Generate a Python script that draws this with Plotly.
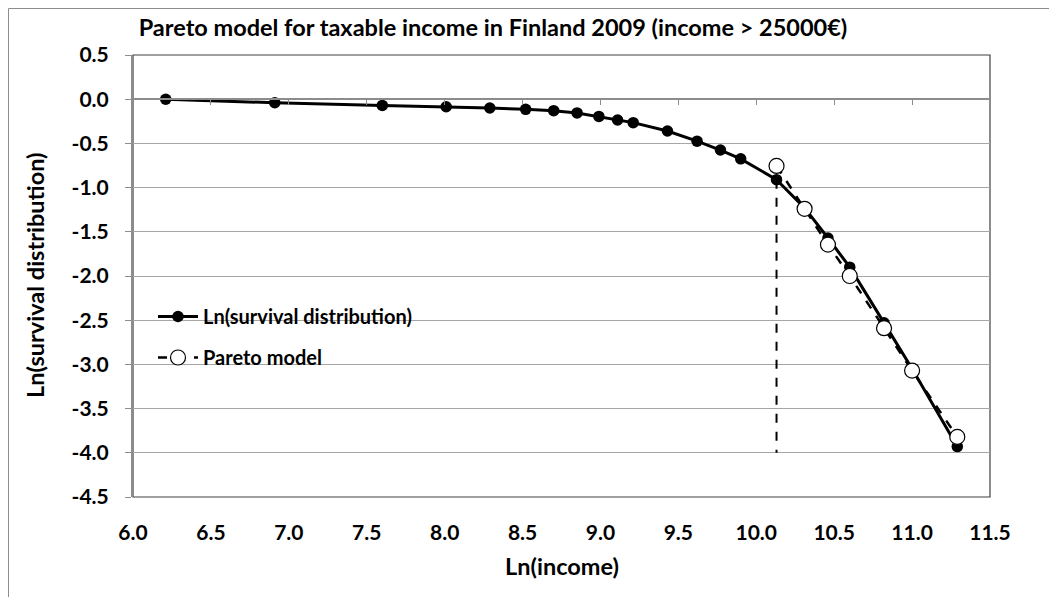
import plotly.graph_objects as go

# Data
ln_income = [6.21, 6.91, 7.60, 8.01, 8.29, 8.52, 8.70, 8.85, 8.99, 9.11, 9.21,
             9.43, 9.62, 9.77, 9.90, 10.13, 10.31, 10.46, 10.60, 10.82, 11.00, 11.29]
ln_survival = [0.0, -0.04, -0.07, -0.085, -0.10, -0.115, -0.13, -0.155, -0.195, -0.235, -0.265,
               -0.36, -0.475, -0.575, -0.675, -0.91, -1.23, -1.57, -1.90, -2.53, -3.05, -3.93]
pareto_x = [10.13, 10.31, 10.46, 10.60, 10.82, 11.00, 11.29]
pareto_y = [-0.755, -1.24, -1.645, -2.0, -2.59, -3.07, -3.82]
cutoff_x = [10.13, 10.13]
cutoff_y = [-0.91, -4.0]

x_ticks = [6.0, 6.5, 7.0, 7.5, 8.0, 8.5, 9.0, 9.5, 10.0, 10.5, 11.0, 11.5]
x_ticktext = ["6.0", "6.5", "7.0", "7.5", "8.0", "8.5", "9.0", "9.5", "10.0", "10.5", "11.0", "11.5"]
y_ticks = [0.5, 0.0, -0.5, -1.0, -1.5, -2.0, -2.5, -3.0, -3.5, -4.0, -4.5]
y_ticktext = ["0.5", "0.0", "-0.5", "-1.0", "-1.5", "-2.0", "-2.5", "-3.0", "-3.5", "-4.0", "-4.5"]

W, H = 1057, 597
ML, MR, MT, MB = 125, 75, 47, 108
FONT = "Lato"
BOLD = dict(family=FONT, color="black", weight="bold")

pw = W - ML - MR
ph = H - MT - MB
def px(xp):
    return (xp - ML) / pw
def py(yp):
    return (H - MB - yp) / ph

fig = go.Figure()
fig.add_trace(go.Scatter(x=cutoff_x, y=cutoff_y, mode="lines", showlegend=False,
                         line=dict(color="black", width=2, dash="dash"), hoverinfo="skip"))
fig.add_trace(go.Scatter(x=ln_income, y=ln_survival, mode="lines+markers",
                         name="Ln(survival distribution)", legendgroup="a",
                         line=dict(color="black", width=3),
                         marker=dict(color="black", size=11.5)))
fig.add_trace(go.Scatter(x=pareto_x, y=pareto_y, mode="lines+markers",
                         name="Pareto model", legendgroup="b",
                         line=dict(color="black", width=2.5, dash="dash"),
                         marker=dict(color="white", size=15, line=dict(color="black", width=1.2))))
# invisible trace to activate the x axis drawn at y = 0
fig.add_trace(go.Scatter(x=[6.0], y=[0.0], xaxis="x2", mode="markers",
                         marker=dict(opacity=0), showlegend=False, hoverinfo="skip"))

fig.update_layout(
    width=W, height=H,
    margin=dict(l=ML, r=MR, t=MT, b=MB, autoexpand=False),
    paper_bgcolor="white", plot_bgcolor="white",
    font=dict(family=FONT, size=19, color="black", weight="bold"),
    title=dict(text="Pareto model for taxable income in Finland 2009 (income > 25000€)",
               x=485 / W, xanchor="center", y=1 - 20 / H, yanchor="middle",
               font=dict(size=23.5, **BOLD)),
    xaxis=dict(range=[6.0, 11.5], tickmode="array", tickvals=x_ticks, ticktext=x_ticktext,
               showgrid=False, zeroline=False, showline=False, ticks="",
               ticklabelstandoff=21, automargin=False,
               tickfont=dict(size=21, **BOLD)),
    xaxis2=dict(range=[6.0, 11.5], tickmode="array", tickvals=x_ticks, overlaying="x", anchor="free",
                position=0.9, side="bottom", showline=True, linecolor="#8c8c8c", linewidth=1.5,
                ticks="outside", ticklen=5, tickcolor="#8c8c8c", showticklabels=False,
                showgrid=False, zeroline=False, automargin=False),
    yaxis=dict(range=[-4.5, 0.5], tickmode="array", tickvals=y_ticks, ticktext=y_ticktext,
               showgrid=True, gridcolor="#a6a6a6", gridwidth=1.3, zeroline=False,
               showline=True, linecolor="#8c8c8c", linewidth=2,
               ticks="outside", ticklen=6, tickcolor="#8c8c8c",
               ticklabelstandoff=12, automargin=False,
               tickfont=dict(size=21, **BOLD)),
    legend=dict(x=px(145), y=py(289), xanchor="left", yanchor="top",
                bgcolor="rgba(0,0,0,0)", font=dict(size=20, **BOLD),
                itemwidth=40, tracegroupgap=12, traceorder="grouped"),
    showlegend=True,
    annotations=[
        dict(text="Ln(income)", xref="paper", yref="paper", x=0.5, y=py(558),
             xanchor="center", yanchor="middle", showarrow=False, font=dict(size=23.5, **BOLD)),
        dict(text="Ln(survival distribution)", xref="paper", yref="paper", x=px(27), y=0.5,
             xanchor="center", yanchor="middle", textangle=-90, showarrow=False,
             font=dict(size=23.5, **BOLD)),
    ],
)

# plot area border
fig.add_shape(type="rect", xref="paper", yref="paper", x0=0, x1=1, y0=0, y1=1,
              line=dict(color="#404040", width=1.2), layer="below")
# outer chart border (left and top edges visible)
fig.add_shape(type="rect", xref="paper", yref="paper",
              x0=px(0.5), x1=px(W + 20), y0=py(H + 20), y1=py(0.5),
              line=dict(color="#8c8c8c", width=1), layer="below")

fig.write_html("out.html")
